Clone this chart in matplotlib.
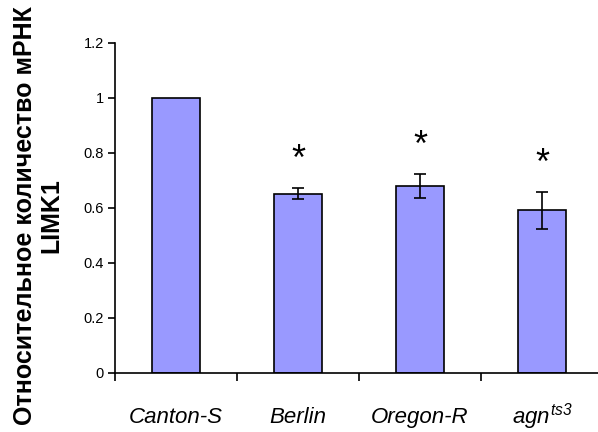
import matplotlib
matplotlib.use('Agg')
import matplotlib.pyplot as plt
import numpy as np

plt.rcParams['font.family'] = ['Liberation Sans', 'DejaVu Sans']
plt.rcParams['mathtext.fontset'] = 'custom'
plt.rcParams['mathtext.it'] = 'Liberation Sans:italic'
plt.rcParams['mathtext.rm'] = 'Liberation Sans:italic'

# Data
strains = ['Canton-S', 'Berlin', 'Oregon-R', r'$agn^{ts3}$']
values = [1.0, 0.65, 0.68, 0.59]
errors = [0.0, 0.02, 0.043, 0.067]
significant = [False, True, True, True]
y_ticks = [0, 0.2, 0.4, 0.6, 0.8, 1.0, 1.2]
y_label = 'Относительное количество мРНК\nLIMK1'

fig = plt.figure(figsize=(5.98, 4.32), dpi=100)
ax = fig.add_axes([115 / 598, 59.3 / 432, 488 / 598, 330 / 432])

x = np.arange(len(strains))
ax.bar(x, values, width=0.4, color='#9999ff', edgecolor='black', linewidth=1.2, zorder=2)
ax.errorbar(x[1:], values[1:], yerr=errors[1:], fmt='none', ecolor='black',
            elinewidth=1.2, capsize=4, capthick=1.2, zorder=3)

for xi, v, e, s in zip(x, values, errors, significant):
    if s:
        ax.text(xi, v + e + 0.1, '*', ha='center', va='center', fontsize=26)

ax.set_xlim(-0.5, 3.5)
ax.set_ylim(0, 1.2)
ax.set_yticks(y_ticks)
ax.set_yticklabels(['%g' % t for t in y_ticks], fontsize=10.5)

# category boundaries as ticks, labels at centers (baseline aligned)
ax.set_xticks(np.arange(-0.5, 3.5, 1.0))
ax.set_xticklabels([])
ax.tick_params(axis='x', direction='out', length=6, width=1.2)
ax.tick_params(axis='y', direction='out', length=5, width=1.2, pad=3)
for xi, name in zip(x, strains):
    ax.annotate(name, xy=(xi, 0), xycoords=('data', 'axes fraction'),
                xytext=(0, -36.5), textcoords='offset points',
                ha='center', va='baseline', fontsize=16, style='italic',
                annotation_clip=False)

for side in ['top', 'right']:
    ax.spines[side].set_visible(False)
ax.spines['left'].set_linewidth(1.2)
ax.spines['bottom'].set_linewidth(1.2)

fig.text(38 / 598, 0.5, y_label, rotation=90, ha='center', va='center',
         fontsize=18, fontweight='bold', linespacing=1.15)

fig.savefig('out.png', dpi=100)
